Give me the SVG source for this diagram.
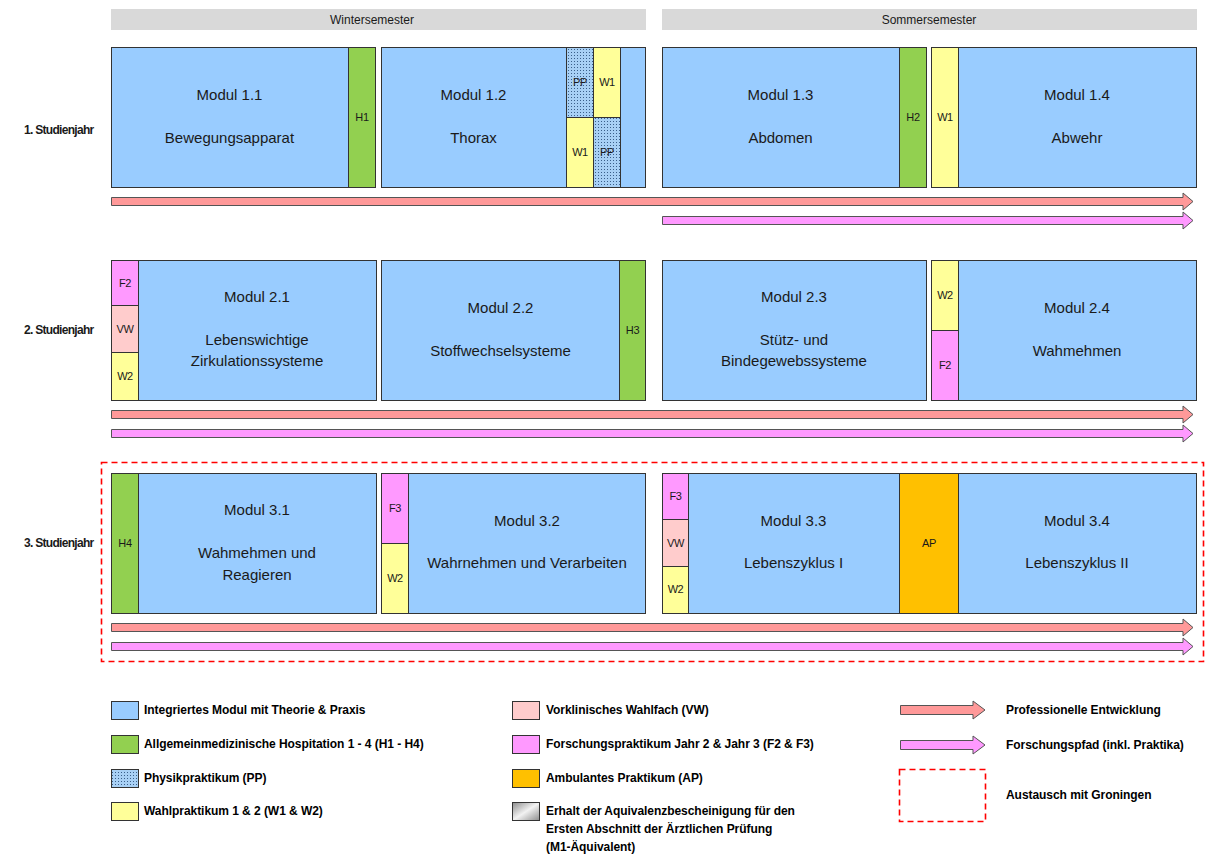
<svg xmlns="http://www.w3.org/2000/svg" width="1206" height="855" viewBox="0 0 1206 855">
<style>
text{font-family:"Liberation Sans",Arial,sans-serif;fill:#1a1a1a}
.hdr{fill:#d9d9d9}
.ht{font-size:12px;text-anchor:middle}
.row{font-size:12px;font-weight:bold;letter-spacing:-0.7px}
.m{fill:#99ccff;stroke:#333;stroke-width:1}
.h{fill:#92d050;stroke:#333;stroke-width:1}
.w{fill:#ffff99;stroke:#333;stroke-width:1}
.vw{fill:#ffcccc;stroke:#333;stroke-width:1}
.f{fill:#ff99ff;stroke:#333;stroke-width:1}
.ap{fill:#ffc000;stroke:#333;stroke-width:1}
.pp{fill:url(#dots);stroke:#333;stroke-width:1}
.mt{font-size:15px;text-anchor:middle}
.s{font-size:11px;text-anchor:middle;letter-spacing:-0.4px}
.ar1{fill:#ff9999;stroke:#555;stroke-width:1}
.ar2{fill:#ff99ff;stroke:#555;stroke-width:1}
.dash{fill:none;stroke:#ff0000;stroke-width:1.6;stroke-dasharray:6,4}
.lg{font-size:12px;font-weight:bold;letter-spacing:-0.05px;fill:#000}
</style>
<defs>
<pattern id="dots" width="3" height="3" patternUnits="userSpaceOnUse">
<rect width="3" height="3" fill="#a8d0f5"/>
<rect x="1" y="1" width="1" height="1" fill="#3a5f8a"/>
</pattern>
<linearGradient id="grey" x1="0" y1="0" x2="1" y2="1">
<stop offset="0" stop-color="#8c8c8c"/>
<stop offset="0.5" stop-color="#f2f2f2"/>
<stop offset="1" stop-color="#8c8c8c"/>
</linearGradient>
</defs>
<rect width="1206" height="855" fill="#fff"/>

<g id="headers">
<rect class="hdr" x="111" y="9" width="535" height="21"/>
<text class="ht" x="372" y="24">Wintersemester</text>
<rect class="hdr" x="662" y="9" width="535" height="21"/>
<text class="ht" x="929" y="24">Sommersemester</text>
</g>

<g id="row-labels">
<text class="row" x="24" y="134">1. Studienjahr</text>
<text class="row" x="24" y="334">2. Studienjahr</text>
<text class="row" x="24" y="547">3. Studienjahr</text>
</g>

<g id="exchange-box">
<rect class="dash" x="101.5" y="462.5" width="1102" height="199"/>
</g>

<!-- Row 1 -->
<g id="modul-1-1">
<rect class="m" x="111.5" y="47.5" width="237" height="140"/>
<text class="mt" x="229.5" y="100">Modul 1.1</text>
<text class="mt" x="229.5" y="143">Bewegungsapparat</text>
</g>
<g id="h1"><rect class="h" x="348.5" y="47.5" width="27" height="140"/><text class="s" x="362" y="121">H1</text></g>
<g id="modul-1-2">
<rect class="m" x="381.5" y="47.5" width="264" height="140"/>
<text class="mt" x="473.5" y="100">Modul 1.2</text>
<text class="mt" x="473.5" y="143">Thorax</text>
</g>
<g id="pp-1"><rect class="pp" x="566.5" y="47.5" width="27" height="70"/><text class="s" x="580" y="86">PP</text></g>
<g id="w1-1"><rect class="w" x="593.5" y="47.5" width="27" height="70"/><text class="s" x="607" y="86">W1</text></g>
<g id="w1-2"><rect class="w" x="566.5" y="117.5" width="27" height="70"/><text class="s" x="580" y="156">W1</text></g>
<g id="pp-2"><rect class="pp" x="593.5" y="117.5" width="27" height="70"/><text class="s" x="607" y="156">PP</text></g>
<g id="modul-1-3">
<rect class="m" x="662.5" y="47.5" width="237" height="140"/>
<text class="mt" x="780.5" y="100">Modul 1.3</text>
<text class="mt" x="780.5" y="143">Abdomen</text>
</g>
<g id="h2"><rect class="h" x="899.5" y="47.5" width="27" height="140"/><text class="s" x="913" y="121">H2</text></g>
<g id="w1-3"><rect class="w" x="931.5" y="47.5" width="27" height="140"/><text class="s" x="945" y="121">W1</text></g>
<g id="modul-1-4">
<rect class="m" x="958.5" y="47.5" width="238" height="140"/>
<text class="mt" x="1077" y="100">Modul 1.4</text>
<text class="mt" x="1077" y="143">Abwehr</text>
</g>

<!-- Row 2 -->
<g id="f2-1"><rect class="f" x="111.5" y="260.5" width="27" height="45"/><text class="s" x="125" y="287">F2</text></g>
<g id="vw-1"><rect class="vw" x="111.5" y="305.5" width="27" height="47"/><text class="s" x="125" y="333">VW</text></g>
<g id="w2-1"><rect class="w" x="111.5" y="352.5" width="27" height="48"/><text class="s" x="125" y="380">W2</text></g>
<g id="modul-2-1">
<rect class="m" x="138.5" y="260.5" width="238" height="140"/>
<text class="mt" x="257" y="302">Modul 2.1</text>
<text class="mt" x="257" y="345">Lebenswichtige</text>
<text class="mt" x="257" y="366">Zirkulationssysteme</text>
</g>
<g id="modul-2-2">
<rect class="m" x="381.5" y="260.5" width="238" height="140"/>
<text class="mt" x="500.5" y="313">Modul 2.2</text>
<text class="mt" x="500.5" y="356">Stoffwechselsysteme</text>
</g>
<g id="h3"><rect class="h" x="619.5" y="260.5" width="26" height="140"/><text class="s" x="632.5" y="334">H3</text></g>
<g id="modul-2-3">
<rect class="m" x="662.5" y="260.5" width="264" height="140"/>
<text class="mt" x="794" y="302">Modul 2.3</text>
<text class="mt" x="794" y="345">Stütz- und</text>
<text class="mt" x="794" y="366">Bindegewebssysteme</text>
</g>
<g id="w2-2"><rect class="w" x="931.5" y="260.5" width="27" height="70"/><text class="s" x="945" y="299">W2</text></g>
<g id="f2-2"><rect class="f" x="931.5" y="330.5" width="27" height="70"/><text class="s" x="945" y="369">F2</text></g>
<g id="modul-2-4">
<rect class="m" x="958.5" y="260.5" width="238" height="140"/>
<text class="mt" x="1077" y="313">Modul 2.4</text>
<text class="mt" x="1077" y="356">Wahmehmen</text>
</g>

<!-- Row 3 -->
<g id="h4"><rect class="h" x="111.5" y="473.5" width="27" height="140"/><text class="s" x="125" y="547">H4</text></g>
<g id="modul-3-1">
<rect class="m" x="138.5" y="473.5" width="238" height="140"/>
<text class="mt" x="257" y="515">Modul 3.1</text>
<text class="mt" x="257" y="558">Wahmehmen und</text>
<text class="mt" x="257" y="580">Reagieren</text>
</g>
<g id="f3-1"><rect class="f" x="381.5" y="473.5" width="27" height="70"/><text class="s" x="395" y="512">F3</text></g>
<g id="w2-3"><rect class="w" x="381.5" y="543.5" width="27" height="70"/><text class="s" x="395" y="582">W2</text></g>
<g id="modul-3-2">
<rect class="m" x="408.5" y="473.5" width="237" height="140"/>
<text class="mt" x="527" y="526">Modul 3.2</text>
<text class="mt" x="527" y="568">Wahrnehmen und Verarbeiten</text>
</g>
<g id="f3-2"><rect class="f" x="662.5" y="473.5" width="26" height="46"/><text class="s" x="675.5" y="500">F3</text></g>
<g id="vw-2"><rect class="vw" x="662.5" y="519.5" width="26" height="47"/><text class="s" x="675.5" y="547">VW</text></g>
<g id="w2-4"><rect class="w" x="662.5" y="566.5" width="26" height="47"/><text class="s" x="675.5" y="593">W2</text></g>
<g id="modul-3-3">
<rect class="m" x="688.5" y="473.5" width="211" height="140"/>
<text class="mt" x="793.5" y="526">Modul 3.3</text>
<text class="mt" x="793.5" y="568">Lebenszyklus I</text>
</g>
<g id="ap"><rect class="ap" x="899.5" y="473.5" width="59" height="140"/><text class="s" x="929" y="547">AP</text></g>
<g id="modul-3-4">
<rect class="m" x="958.5" y="473.5" width="238" height="140"/>
<text class="mt" x="1077" y="526">Modul 3.4</text>
<text class="mt" x="1077" y="568">Lebenszyklus II</text>
</g>

<g id="connectors">
<path class="ar1" d="M111.5,197.5 H1183 V193 L1193,201.5 L1183,210 V205.5 H111.5 Z"/>
<path class="ar2" d="M662.5,216.5 H1183 V212 L1193,220.5 L1183,229 V224.5 H662.5 Z"/>
<path class="ar1" d="M111.5,410.5 H1183 V406 L1193,414.5 L1183,423 V418.5 H111.5 Z"/>
<path class="ar2" d="M111.5,429.5 H1183 V425 L1193,433.5 L1183,442 V437.5 H111.5 Z"/>
<path class="ar1" d="M111.5,623.5 H1183 V619 L1193,627.5 L1183,636 V631.5 H111.5 Z"/>
<path class="ar2" d="M111.5,642.5 H1183 V638 L1193,646.5 L1183,655 V650.5 H111.5 Z"/>
</g>

<g id="legend">
<g id="lg-modul"><rect class="m" x="111.5" y="701.5" width="27" height="18"/><text class="lg" x="144" y="714">Integriertes Modul mit Theorie &amp; Praxis</text></g>
<g id="lg-h"><rect class="h" x="111.5" y="735.5" width="27" height="18"/><text class="lg" x="144" y="748">Allgemeinmedizinische Hospitation 1 - 4 (H1 - H4)</text></g>
<g id="lg-pp"><rect class="pp" x="111.5" y="769.5" width="27" height="18"/><text class="lg" x="144" y="782">Physikpraktikum (PP)</text></g>
<g id="lg-w"><rect class="w" x="111.5" y="802.5" width="27" height="18"/><text class="lg" x="144" y="815">Wahlpraktikum 1 &amp; 2 (W1 &amp; W2)</text></g>
<g id="lg-vw"><rect class="vw" x="512.5" y="701.5" width="27" height="18"/><text class="lg" x="546" y="714">Vorklinisches Wahlfach (VW)</text></g>
<g id="lg-f"><rect class="f" x="512.5" y="735.5" width="27" height="18"/><text class="lg" x="546" y="748">Forschungspraktikum Jahr 2 &amp; Jahr 3 (F2 &amp; F3)</text></g>
<g id="lg-ap"><rect class="ap" x="512.5" y="769.5" width="27" height="18"/><text class="lg" x="546" y="782">Ambulantes Praktikum (AP)</text></g>
<g id="lg-m1"><rect x="512.5" y="802.5" width="27" height="18" fill="url(#grey)" stroke="#333"/>
<text class="lg" x="546" y="815">Erhalt der Aquivalenzbescheinigung für den</text>
<text class="lg" x="546" y="833">Ersten Abschnitt der Ärztlichen Prüfung</text>
<text class="lg" x="546" y="851">(M1-Äquivalent)</text></g>
<g id="lg-ar1"><path class="ar1" d="M900.5,705.5 H973 V701 L985,710 L973,719 V714.5 H900.5 Z"/><text class="lg" x="1006" y="714">Professionelle Entwicklung</text></g>
<g id="lg-ar2"><path class="ar2" d="M900.5,740.5 H973 V736 L985,745 L973,754 V749.5 H900.5 Z"/><text class="lg" x="1006" y="749">Forschungspfad (inkl. Praktika)</text></g>
<g id="lg-dash"><rect class="dash" x="899.5" y="769.5" width="86" height="52"/><text class="lg" x="1006" y="799">Austausch mit Groningen</text></g>
</g>
</svg>
